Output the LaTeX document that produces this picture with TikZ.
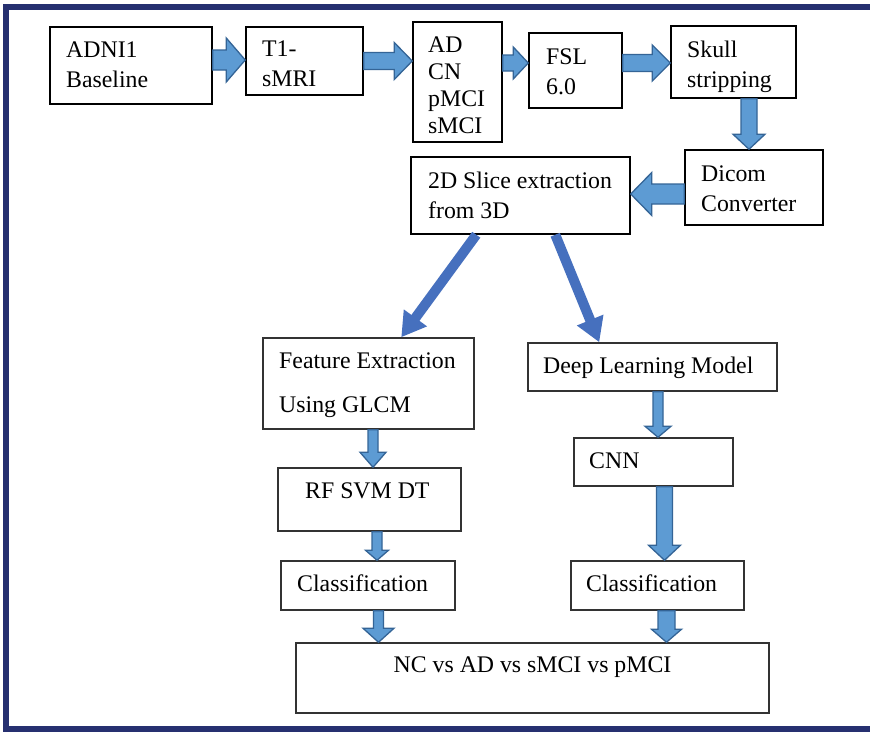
\documentclass[tikz,border=0pt]{standalone}
\usepackage{fontspec}
\setmainfont{Liberation Serif}
\usetikzlibrary{calc,arrows.meta}

\definecolor{framenavy}{RGB}{38,48,112}
\definecolor{arrowfill}{RGB}{93,155,211}
\definecolor{arrowedge}{RGB}{52,100,150}
\definecolor{diagblue}{RGB}{70,112,190}

\tikzset{
  box/.style={draw=black, line width=1.5pt, fill=white, inner sep=0pt},
  boxlow/.style={box, draw=black!80},
  % text nodes are placed by the baseline of their last line
  txt/.style={inner sep=0pt, anchor=base west, align=left,
              font=\fontsize{23.8}{30}\selectfont},
  blockarrowstyle/.style={fill=arrowfill, draw=arrowedge, line width=1.3pt, line join=miter},
  diag/.style={draw=diagblue, line width=10pt, -{Triangle[width=27pt,length=24pt]}},
  frameline/.style={draw=framenavy, line width=6pt}
}

% block arrow: tail, tip, shaft half width, head half width, head length
\newcommand\blockarrow[5]{%
  \path #1 coordinate (ba-s);
  \path #2 coordinate (ba-e);
  \path ($(ba-e)!#5!(ba-s)$) coordinate (ba-h);
  \draw[blockarrowstyle]
    ($(ba-s)!#3!90:(ba-e)$) -- ($(ba-h)!#3!90:(ba-e)$) --
    ($(ba-h)!#4!90:(ba-e)$) -- (ba-e) --
    ($(ba-h)!#4!-90:(ba-e)$) -- ($(ba-h)!#3!-90:(ba-e)$) --
    ($(ba-s)!#3!-90:(ba-e)$) -- cycle;
}

\begin{document}
\begin{tikzpicture}[x=1pt, y=-1pt]
\useasboundingbox (0,0) rectangle (870,731);
\fill[white] (0,0) rectangle (870,731);

% outer frame
\draw[frameline] (872,7) -- (6,7) -- (6,729) -- (872,729);

% boxes of the pipeline
\node[box, minimum width=162pt, minimum height=77pt] (adni) at (131,65.5) {};
\node[box, minimum width=117pt, minimum height=68pt] (t1) at (304.5,61) {};
\node[box, minimum width=89pt, minimum height=120pt] (grp) at (457.5,82) {};
\node[box, minimum width=93pt, minimum height=75pt] (fsl) at (575.5,70.5) {};
\node[box, minimum width=125pt, minimum height=72pt] (skull) at (733.5,62) {};
\node[box, minimum width=138pt, minimum height=75pt] (dicom) at (754,187.5) {};
\node[box, minimum width=219pt, minimum height=77pt] (slice) at (520.5,195.5) {};
\node[boxlow, minimum width=211pt, minimum height=91pt] (feat) at (368.5,383.5) {};
\node[boxlow, minimum width=249pt, minimum height=48pt] (deep) at (652.5,367) {};
\node[boxlow, minimum width=159pt, minimum height=48pt] (cnn) at (653.5,462) {};
\node[boxlow, minimum width=183pt, minimum height=63pt] (rf) at (369.5,499.5) {};
\node[boxlow, minimum width=174pt, minimum height=49pt] (clsl) at (368,585.5) {};
\node[boxlow, minimum width=173pt, minimum height=49pt] (clsr) at (657.5,585.5) {};
\node[boxlow, minimum width=473pt, minimum height=70pt] (out) at (532.5,678) {};

% box texts
\node[txt] (adni-t) at (66,87) {ADNI1\\Baseline};
\node[txt] (t1-t) at (262,86.5) {T1-\\sMRI};
\node[txt, font=\fontsize{23.8}{26.7}\selectfont] (grp-t) at (428,133) {AD\\CN\\pMCI\\sMCI};
\node[txt] (fsl-t) at (546,94) {FSL\\6.0};
\node[txt] (skull-t) at (687,87) {Skull\\stripping};
\node[txt] (dicom-t) at (701,211) {Dicom\\Converter};
\node[txt] (slice-t) at (428,218) {2D Slice extraction\\from 3D};
\node[txt] (feat-t) at (279,412) {Feature Extraction\\[14pt]Using GLCM};
\node[txt] (deep-t) at (543,373) {Deep Learning Model};
\node[txt] (cnn-t) at (589,468) {CNN};
\node[txt] (rf-t) at (305,498) {RF SVM DT};
\node[txt] (clsl-t) at (297,591) {Classification};
\node[txt] (clsr-t) at (586,591) {Classification};
\node[txt, anchor=base] (out-t) at (532.5,672) {NC vs AD vs sMCI vs pMCI};

% block arrows along the top row and down the right side
\blockarrow{($(adni.east)+(0,-5.5)$)}{(ba-s -| t1.west)}{10pt}{22pt}{19pt}
\blockarrow{(t1.east)}{(ba-s -| grp.west)}{8.5pt}{18.5pt}{18pt}
\blockarrow{($(grp.east)+(0,-19)$)}{(ba-s -| fsl.west)}{8pt}{16pt}{15pt}
\blockarrow{($(fsl.east)+(0,-7.5)$)}{(ba-s -| skull.west)}{8.5pt}{18pt}{18pt}
\blockarrow{($(skull.south)+(15.5,0)$)}{(ba-s |- dicom.north)}{8pt}{16pt}{15pt}
\blockarrow{($(dicom.west)+(0,6.5)$)}{(ba-s -| slice.east)}{10pt}{21.5pt}{21pt}

% the two branches
\draw[diag] ($(slice.south west)+(66,0)$) -- ($(feat.north west)+(139,0)$);
\draw[diag] ($(slice.south west)+(145,0)$) -- ($(deep.north west)+(72,0)$);

% block arrows of the left branch
\blockarrow{($(feat.south)+(4.5,0)$)}{(ba-s |- rf.north)}{5pt}{13pt}{15pt}
\blockarrow{($(rf.south)+(7.5,0)$)}{(ba-s |- clsl.north)}{5pt}{11.5pt}{10pt}
\blockarrow{($(clsl.south)+(10.5,0)$)}{(ba-s |- out.north)}{5pt}{15.5pt}{14pt}

% block arrows of the right branch
\blockarrow{($(deep.south)+(5.5,0)$)}{(ba-s |- cnn.north)}{5pt}{13pt}{11pt}
\blockarrow{($(cnn.south)+(11,0)$)}{(ba-s |- clsr.north)}{8pt}{16pt}{15pt}
\blockarrow{($(clsr.south)+(9,0)$)}{(ba-s |- out.north)}{8.5pt}{15pt}{13pt}
\end{tikzpicture}
\end{document}
